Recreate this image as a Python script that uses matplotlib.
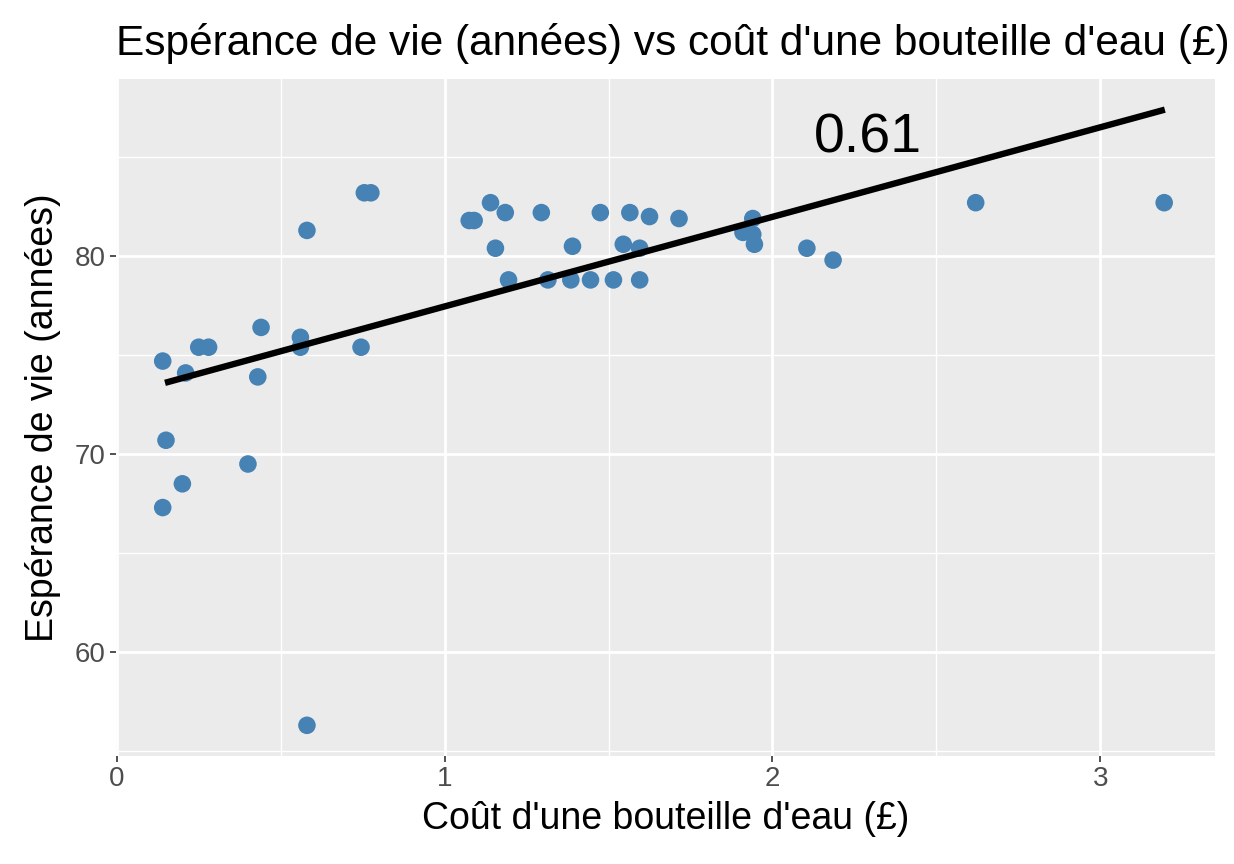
import numpy as np
import matplotlib
matplotlib.use("Agg")
import matplotlib.pyplot as plt

# ---------------- DATA ----------------
cost = [0.14, 0.15, 0.14, 0.20, 0.21, 0.25, 0.28, 0.43, 0.44, 0.40,
        0.56, 0.56, 0.58, 0.58, 0.745, 0.755, 0.775, 1.075, 1.09, 1.14,
        1.185, 1.155, 1.195, 1.295, 1.315, 1.385, 1.39, 1.445, 1.475, 1.515,
        1.545, 1.565, 1.595, 1.595, 1.625, 1.715, 1.94, 1.91, 1.94, 1.945,
        2.105, 2.185, 2.62, 3.195]
life = [74.7, 70.7, 67.3, 68.5, 74.1, 75.4, 75.4, 73.9, 76.4, 69.5,
        75.9, 75.4, 81.3, 56.3, 75.4, 83.2, 83.2, 81.8, 81.8, 82.7,
        82.2, 80.4, 78.8, 82.2, 78.8, 78.8, 80.5, 78.8, 82.2, 78.8,
        80.6, 82.2, 80.4, 78.8, 82.0, 81.9, 81.9, 81.2, 81.1, 80.6,
        80.4, 79.8, 82.7, 82.7]

trend_x = [0.147, 3.197]
trend_y = [73.6, 87.4]

corr_label = "0.61"
corr_pos = (2.29, 85.95)

x_ticks = [0, 1, 2, 3]
y_ticks = [60, 70, 80]

TITLE = "Espérance de vie (années) vs coût d'une bouteille d'eau (£)"
XLABEL = "Coût d'une bouteille d'eau (£)"
YLABEL = "Espérance de vie (années)"

# ---------------- PLOT ----------------
plt.rcParams["font.family"] = ["Liberation Sans", "DejaVu Sans"]

fig = plt.figure(figsize=(12.34, 8.64), dpi=100)
ax = fig.add_axes([0.094, 0.125, 0.8906, 0.7836])
ax.set_facecolor("#EBEBEB")

# grid (ggplot style)
for v in [0.5, 1.5, 2.5]:
    ax.axvline(v, color="white", lw=1.0, zorder=0)
for v in [55, 65, 75, 85]:
    ax.axhline(v, color="white", lw=1.0, zorder=0)
for v in x_ticks:
    ax.axvline(v, color="white", lw=2.0, zorder=0)
for v in y_ticks:
    ax.axhline(v, color="white", lw=2.0, zorder=0)

ax.scatter(cost, life, s=160, color="#4682B4", edgecolors="none", zorder=3)
ax.plot(trend_x, trend_y, color="black", lw=4.6, solid_capstyle="butt", zorder=4)
ax.text(corr_pos[0], corr_pos[1], corr_label, fontsize=40, ha="center",
        va="center", color="black", zorder=5)

ax.set_xlim(-0.0025, 3.35)
ax.set_ylim(54.75, 88.95)
ax.set_xticks(x_ticks)
ax.set_yticks(y_ticks)
ax.tick_params(axis="both", colors="#333333", length=4.5, width=1.2,
               labelsize=20, labelcolor="#4D4D4D", pad=3)
for s in ax.spines.values():
    s.set_visible(False)

ax.set_xlabel(XLABEL, fontsize=27, labelpad=6)
ax.set_ylabel(YLABEL, fontsize=27, labelpad=10)
ax.set_title(TITLE, fontsize=30.5, loc="left", pad=17)

fig.savefig("out.png", dpi=100)
